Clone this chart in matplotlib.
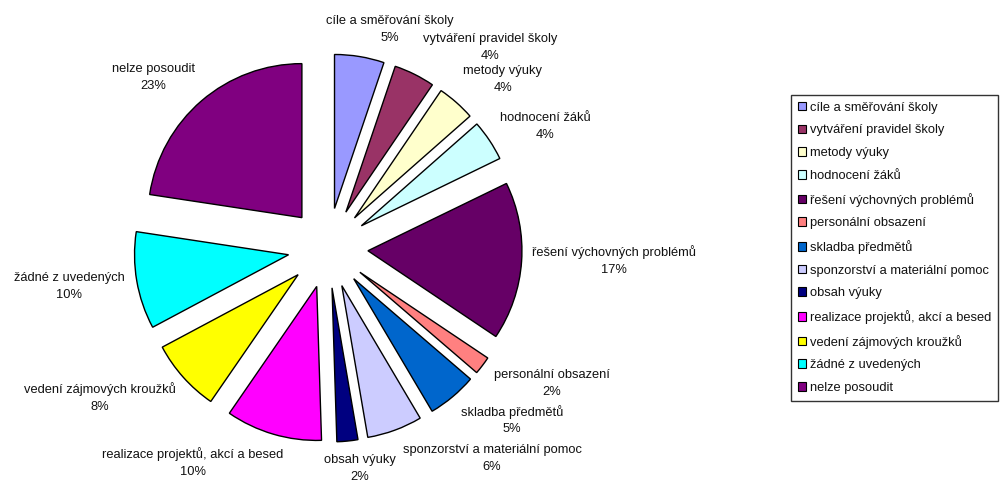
import numpy as np
import matplotlib.pyplot as plt
from matplotlib.patches import Patch

plt.rcParams['font.family'] = ['Liberation Sans', 'DejaVu Sans']

categories = ['cíle a směřování školy', 'vytváření pravidel školy', 'metody výuky',
              'hodnocení žáků', 'řešení výchovných problémů', 'personální obsazení',
              'skladba předmětů', 'sponzorství a materiální pomoc', 'obsah výuky',
              'realizace projektů, akcí a besed', 'vedení zájmových kroužků',
              'žádné z uvedených', 'nelze posoudit']
# shares in %
shares = [5.2, 4.3, 4.0, 4.3, 16.6, 1.9, 5.2, 5.8, 2.2, 10.1, 7.6, 10.2, 22.6]
colors = ['#9999FF', '#993366', '#FFFFCC', '#CCFFFF', '#660066', '#FF8080',
          '#0066CC', '#CCCCFF', '#000080', '#FF00FF', '#FFFF00', '#00FFFF', '#800080']

# label anchor points (pie radius = 1), placed like the Excel chart
label_xy = [(0.403, 1.416), (1.052, 1.299), (1.136, 1.097), (1.409, 0.786),
            (1.857, -0.084), (1.455, -0.877), (1.195, -1.117), (1.065, -1.364),
            (0.208, -1.429), (-0.877, -1.396), (-1.481, -0.974), (-1.682, -0.247),
            (-1.136, 1.110)]

W, H = 1003, 483
fig = plt.figure(figsize=(W / 100, H / 100), dpi=100)
cx, cy, r = 328, 248, 154
side = 440
ax = fig.add_axes([(cx - side / 2) / W, (H - cy - side / 2) / H, side / W, side / H])
lim = side / 2 / r

wedges, _ = ax.pie(shares, colors=colors, startangle=90, counterclock=False,
                   explode=[0.26] * len(shares),
                   wedgeprops=dict(edgecolor='black', linewidth=1.0))
ax.set_xlim(-lim, lim)
ax.set_ylim(-lim, lim)
ax.set_aspect('equal')
ax.axis('off')

for name, val, (lx, ly) in zip(categories, shares, label_xy):
    ax.text(lx, ly, f'{name}\n{val:.0f}%', ha='center', va='center', fontsize=9.3,
            linespacing=1.55, color='#111111', clip_on=False)

handles = [Patch(facecolor=c, edgecolor='black', linewidth=0.8) for c in colors]
leg = fig.legend(handles, categories, loc='upper left',
                 bbox_to_anchor=(791 / W, 1 - 95 / H), borderaxespad=0,
                 fontsize=9.3, handlelength=0.65, handleheight=0.65,
                 handletextpad=0.3, labelspacing=0.83, borderpad=0.52,
                 frameon=True, fancybox=False)
leg.get_frame().set_edgecolor('black')
leg.get_frame().set_linewidth(1.0)
for t in leg.get_texts():
    t.set_color('#111111')

fig.savefig('out.png', dpi=100)
